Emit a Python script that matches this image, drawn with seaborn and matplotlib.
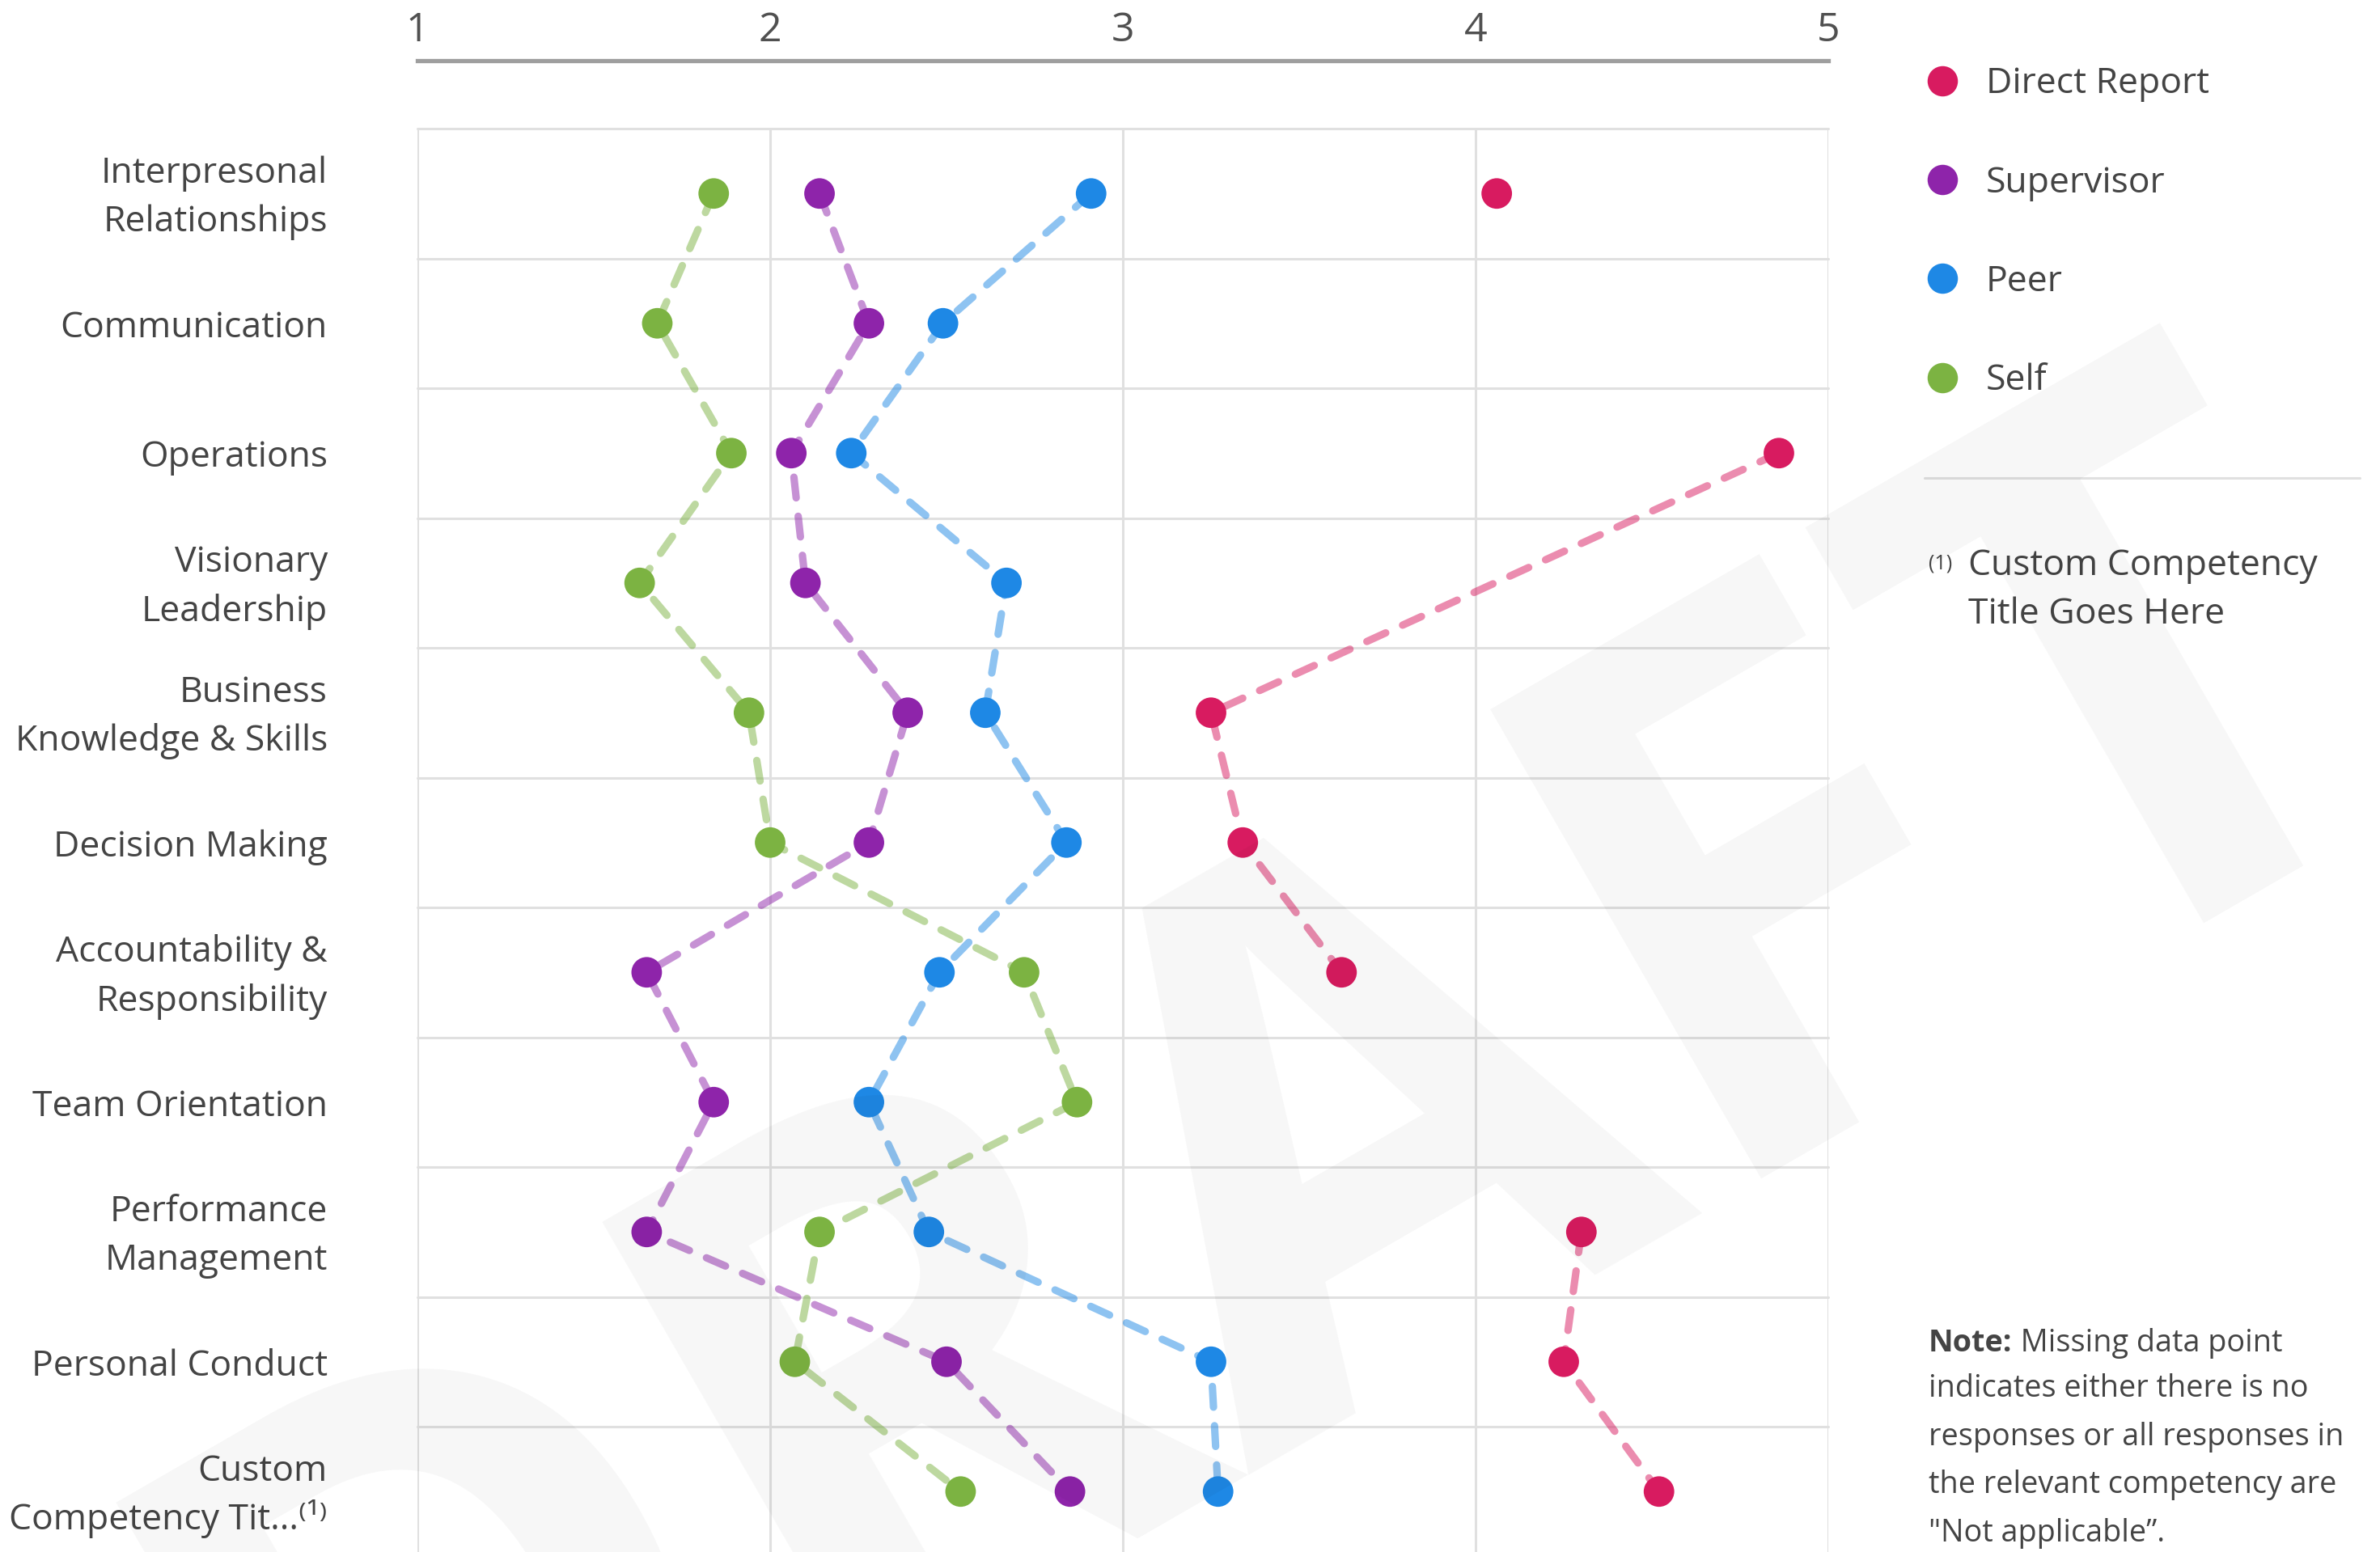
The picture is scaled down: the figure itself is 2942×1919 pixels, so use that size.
import matplotlib
matplotlib.use("Agg")
import matplotlib.pyplot as plt
from matplotlib.lines import Line2D
from matplotlib.transforms import ScaledTranslation
import numpy as np
import pandas as pd
import seaborn as sns

# Competency labels as shown on the chart (top to bottom)
competencies = [
    "Interpresonal\nRelationships",
    "Communication",
    "Operations",
    "Visionary\nLeadership",
    "Business\nKnowledge & Skills",
    "Decision Making",
    "Accountability &\nResponsibility",
    "Team Orientation",
    "Performance\nManagement",
    "Personal Conduct",
    "Custom\nCompetency Tit...\u207d\u00b9\u207e",
]

raters = ["Direct Report", "Supervisor", "Peer", "Self"]
nan = np.nan
direct_report = [4.06, nan, 4.86, nan, 3.25, 3.34, 3.62, nan, 4.30, 4.25, 4.52]
supervisor = [2.14, 2.28, 2.06, 2.10, 2.39, 2.28, 1.65, 1.84, 1.65, 2.50, 2.85]
peer = [2.91, 2.49, 2.23, 2.67, 2.61, 2.84, 2.48, 2.28, 2.45, 3.25, 3.27]
self_rating = [1.84, 1.68, 1.89, 1.63, 1.94, 2.00, 2.72, 2.87, 2.14, 2.07, 2.54]

# which points are joined by a dashed line (-1 = not joined)
direct_report_links = [-1, -1, 1, -1, 1, 1, 1, -1, 2, 2, 2]
full_links = [0] * len(competencies)

x_ticks = [1, 2, 3, 4, 5]

colors = {
    "Direct Report": "#d81b60",
    "Supervisor": "#8e24aa",
    "Peer": "#1e88e5",
    "Self": "#7cb342",
}

# long table for seaborn
series = {"Direct Report": direct_report, "Supervisor": supervisor,
          "Peer": peer, "Self": self_rating}
links = {"Direct Report": direct_report_links, "Supervisor": full_links,
         "Peer": full_links, "Self": full_links}
rows = []
for name in raters:
    for i, (v, lk) in enumerate(zip(series[name], links[name])):
        if not np.isnan(v):
            rows.append({"rater": name, "row": i, "score": v, "link": lk})
df = pd.DataFrame(rows)
df_lines = df[df["link"] >= 0]

sns.set_style("white")
plt.rcParams["font.family"] = ["Open Sans", "DejaVu Sans"]

W, H = 2942, 1919
fig = plt.figure(figsize=(W / 200, H / 200), dpi=200)

def fx(px):
    return px / W

def fy(py):
    return 1 - py / H

# plot box: x=1 at 516px, x=5 at 2260px, top at 159px, rows of 160.5px
top_px, row_px = 159, 160.5
bottom_px = top_px + row_px * len(competencies)
ax = fig.add_axes([fx(516), fy(bottom_px), fx(2260) - fx(516), (bottom_px - top_px) / H])

sns.lineplot(data=df_lines, x="score", y="row", hue="rater", units="link",
             estimator=None, sort=False, palette=colors, hue_order=raters,
             legend=False, linewidth=3.3, alpha=0.5,
             linestyle=(0, (2.8, 2.5)), dash_capstyle="round",
             zorder=2, ax=ax)
sns.scatterplot(data=df, x="score", y="row", hue="rater", palette=colors,
                hue_order=raters, s=185, linewidth=0, edgecolor="none",
                legend=False, zorder=3, ax=ax)

ax.set_xlim(1, 5)
ax.set_ylim(len(competencies) - 0.5, -0.5)
ax.set_xlabel("")
ax.set_ylabel("")

ax.set_xticks(x_ticks)
ax.set_xticklabels([str(t) for t in x_ticks])
ax.xaxis.tick_top()
ax.set_yticks(range(len(competencies)))
ax.set_yticklabels(competencies)
ax.set_yticks(np.arange(-0.5, len(competencies), 1), minor=True)

ax.grid(False)
ax.grid(which="major", axis="x", color="#e0e0e0", linewidth=1.1)
ax.grid(which="minor", axis="y", color="#e0e0e0", linewidth=1.1)
for tick in ax.xaxis.get_major_ticks() + ax.yaxis.get_minor_ticks():
    tick.gridline.set_clip_on(False)

ax.tick_params(axis="x", length=0, pad=4.3, labelsize=18, labelcolor="#505050")
ax.tick_params(axis="y", which="both", length=0, pad=40, labelsize=16,
               labelcolor="#444444")
for lbl in ax.get_xticklabels():
    lbl.set_fontweight("light")
ax.get_xticklabels()[0].set_ha("left")

# two-line labels: centre on the row, nudged a little down
nudge = ScaledTranslation(0, -5.5 / 200, fig.dpi_scale_trans)
for tick in ax.yaxis.get_major_ticks():
    lbl = tick.label1
    if "\n" in lbl.get_text():
        lbl.set_linespacing(1.46)
        lbl.set_va("center")
        lbl.set_transform(lbl.get_transform() + nudge)
ax.yaxis.get_major_ticks()[-1].label1.set_linespacing(1.3)

for side in ["left", "right", "bottom"]:
    ax.spines[side].set_visible(False)
ax.spines["top"].set_position(("outward", 84 * 72 / 200))
ax.spines["top"].set_color("#9e9e9e")
ax.spines["top"].set_linewidth(1.9)

# legend
handles = [Line2D([], [], marker="o", linestyle="none", markersize=13.5,
                  markerfacecolor=colors[r], markeredgewidth=0) for r in raters]
fig.legend(handles, raters, loc="upper left",
           bbox_to_anchor=(fx(2379), fy(82)), frameon=False,
           borderpad=0, borderaxespad=0, handlelength=1.0, handletextpad=0.7,
           labelspacing=1.75, prop={"size": 16}, labelcolor="#444444")

# separator and footnote
fig.add_artist(Line2D([fx(2379), fx(2917)], [fy(591), fy(591)],
                      color="#e0e0e0", linewidth=1.1))
fig.text(fx(2384), fy(704), "(1)", fontsize=9, color="#444444", va="baseline")
fig.text(fx(2433), fy(771), "Custom Competency\nTitle Goes Here", fontsize=16,
         color="#444444", va="baseline", linespacing=1.45)

# note
note_head = fig.text(fx(2384), fy(1671), "Note:", fontsize=13.6,
                     fontweight="bold", color="#444444", va="baseline")
fig.add_artist(plt.Annotation(" Missing data point", xy=(1, 0),
                              xycoords=note_head, va="bottom", ha="left",
                              fontsize=13.6, color="#444444"))
fig.text(fx(2384), fy(1906),
         "indicates either there is no\nresponses or all responses in\n"
         "the relevant competency are\n\"Not applicable\u201d.",
         fontsize=13.6, color="#444444", va="baseline", linespacing=1.75)

# DRAFT watermark
fig.text(fx(1703), fy(1683), "DRAFT", fontsize=338, fontweight="bold",
         color="black", alpha=0.035, rotation=30, rotation_mode="anchor",
         ha="center", va="baseline", zorder=10)

fig.savefig("out.png", dpi=200)
plt.close(fig)
